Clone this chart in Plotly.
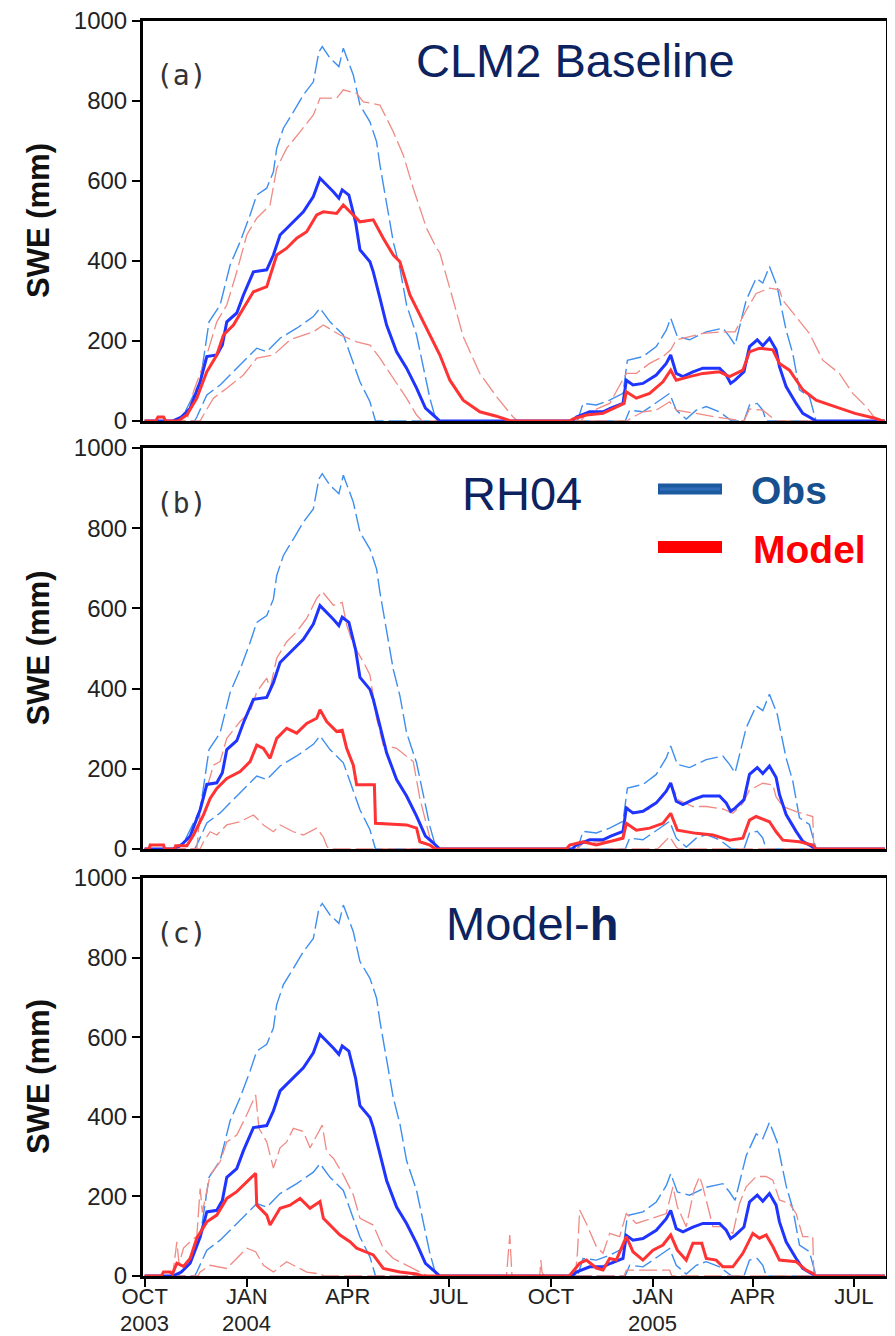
import pandas as pd
import plotly.graph_objects as go

# ---------------- data (day offsets from 2003-10-01, SWE in mm) ----------------
OBS_MEAN_DAY = [0, 25, 33, 41, 50, 56, 65, 70, 74, 83, 89, 98, 110, 116, 122, 134, 143, 152, 158, 170, 175, 178,
                184, 190, 194, 203, 206, 212, 218, 227, 236, 245, 253, 260, 266, 385, 389, 401, 413, 420, 431, 434,
                440, 449, 461, 470, 474, 479, 485, 494, 503, 518, 524, 528, 532, 540, 545, 552, 557, 563, 569, 572,
                578, 587, 593, 600, 605, 667]
OBS_MEAN_SWE = [0, 0, 10, 32, 98, 161, 165, 190, 248, 270, 315, 373, 378, 415, 465, 498, 523, 561, 607, 573, 557, 578,
                565, 498, 428, 398, 373, 307, 240, 173, 132, 82, 32, 15, 0, 0, 10, 23, 23, 32, 44, 102,
                90, 94, 115, 144, 165, 119, 111, 123, 132, 132, 115, 94, 102, 123, 186, 203, 188, 207, 178, 136,
                86, 44, 19, 8, 0, 0]

OBS_UP_DAY = [0, 30, 35, 50, 58, 68, 77, 86, 95, 101, 110, 116, 119, 125, 134, 143, 152, 157, 160, 167, 175, 179,
              188, 194, 203, 209, 212, 218, 224, 230, 236, 245, 251, 257, 262, 265, 385, 390, 395, 407, 419, 431,
              435, 449, 461, 470, 474, 480, 491, 506, 521, 527, 532, 542, 551, 557, 563, 570, 573, 578, 584, 590,
              599, 605, 667]
OBS_UP_SWE = [0, 0, 15, 98, 248, 290, 390, 448, 515, 565, 582, 623, 682, 732, 773, 815, 848, 923, 936, 907, 886, 932,
              865, 790, 748, 698, 640, 548, 448, 382, 290, 215, 140, 57, 7, 0, 0, 0, 44, 40, 52, 69,
              152, 161, 186, 227, 257, 211, 203, 223, 232, 211, 190, 302, 357, 345, 386, 336, 294, 227, 169, 78,
              61, 0, 0]

OBS_LO_DAY = [0, 45, 47, 56, 68, 77, 92, 101, 110, 122, 137, 152, 158, 167, 179, 188, 194, 203, 208, 433, 437, 449,
              464, 473, 479, 488, 497, 506, 518, 529, 540, 545, 552, 557, 560, 667]
OBS_LO_SWE = [0, 0, 10, 65, 90, 115, 157, 182, 173, 207, 232, 261, 282, 248, 215, 148, 98, 48, 0, 0, 27, 23,
              52, 69, 27, 5, 27, 36, 23, 0, 0, 40, 44, 27, 0, 0]

# (a) CLM2 Baseline
A_MEAN_DAY = [0, 10, 12, 17, 19, 30, 38, 47, 56, 65, 71, 80, 89, 98, 110, 119, 128, 137, 146, 155, 161, 173, 179,
              188, 194, 206, 215, 224, 230, 239, 251, 260, 266, 275, 287, 302, 317, 330, 383, 386, 398, 413, 425,
              432, 434, 443, 455, 467, 474, 479, 491, 503, 518, 527, 539, 545, 554, 566, 572, 581, 593, 605, 622,
              640, 658, 665, 667]
A_MEAN_SWE = [0, 0, 10, 10, 0, 0, 15, 57, 123, 165, 215, 240, 282, 323, 336, 415, 432, 457, 473, 515, 523, 519, 540,
              515, 498, 503, 457, 415, 398, 315, 248, 198, 165, 102, 52, 23, 12, 0, 0, 5, 15, 19, 36,
              44, 73, 57, 69, 98, 127, 102, 111, 119, 123, 111, 127, 173, 182, 178, 144, 127, 78, 52, 36,
              19, 7, 0, 0]

A_UP_DAY = [0, 38, 44, 56, 65, 74, 83, 92, 101, 113, 119, 128, 140, 152, 158, 173, 179, 191, 197, 212, 224, 233,
            242, 254, 263, 266, 278, 287, 302, 317, 332, 336, 393, 398, 419, 434, 443, 455, 467, 474, 479, 491,
            503, 521, 532, 542, 551, 563, 572, 575, 587, 599, 611, 626, 638, 650, 660, 667]
A_UP_SWE = [0, 0, 73, 165, 248, 290, 373, 465, 507, 540, 632, 682, 723, 765, 807, 807, 828, 819, 798, 790, 723, 665,
            582, 482, 432, 420, 302, 211, 119, 61, 10, 0, 0, 19, 44, 119, 119, 144, 161, 178, 203, 211,
            219, 223, 223, 277, 319, 332, 328, 302, 261, 219, 152, 119, 69, 36, 0, 0]

A_LO_DAY = [0, 50, 53, 62, 74, 89, 101, 116, 131, 152, 161, 176, 191, 203, 212, 224, 236, 245, 250, 435, 437, 449,
            461, 473, 479, 497, 515, 540, 545, 557, 569, 667]
A_LO_SWE = [0, 0, 15, 57, 82, 115, 157, 165, 203, 223, 240, 215, 198, 190, 157, 107, 57, 15, 0, 0, 5, 23,
            27, 48, 27, 19, 10, 0, 30, 27, 0, 0]

# (b) RH04
B_MEAN_DAY = [0, 4, 5, 17, 18, 27, 28, 38, 44, 53, 59, 65, 74, 86, 95, 101, 107, 113, 119, 128, 137, 146, 155, 158,
              164, 173, 178, 182, 188, 191, 207, 208, 236, 245, 248, 257, 262, 380, 383, 395, 407, 419, 431, 434,
              443, 455, 467, 474, 480, 497, 512, 527, 539, 545, 551, 563, 569, 575, 590, 602, 605, 667]
B_MEAN_SWE = [0, 0, 10, 10, 0, 0, 8, 8, 35, 85, 126, 151, 176, 193, 218, 259, 251, 226, 276, 301, 289, 313, 326, 347,
              318, 293, 296, 251, 209, 160, 160, 64, 60, 52, 18, 10, 0, 0, 10, 18, 10, 18, 27, 64,
              47, 52, 64, 89, 47, 39, 35, 22, 27, 72, 81, 68, 43, 22, 18, 10, 0, 0]

B_UP_DAY = [0, 47, 50, 59, 62, 68, 74, 86, 95, 101, 110, 113, 119, 128, 137, 146, 155, 160, 170, 178, 182, 188,
            197, 203, 209, 215, 227, 242, 248, 257, 262, 265, 390, 395, 419, 431, 434, 443, 455, 467, 474, 481,
            494, 506, 521, 530, 539, 545, 557, 566, 569, 575, 587, 602, 603, 667]
B_UP_SWE = [0, 0, 93, 176, 209, 218, 276, 318, 342, 392, 426, 400, 476, 517, 542, 575, 625, 642, 608, 615, 559, 509,
            467, 434, 326, 259, 251, 218, 126, 27, 10, 0, 0, 15, 20, 30, 106, 89, 100, 130, 164, 122,
            106, 106, 100, 89, 114, 147, 164, 160, 130, 106, 93, 81, 0, 0]

B_LO_DAY = [0, 50, 53, 59, 65, 74, 86, 98, 107, 116, 122, 134, 143, 155, 161, 164, 166, 462, 464, 473, 479, 481, 667]
B_LO_SWE = [0, 0, 18, 43, 35, 60, 68, 85, 60, 43, 60, 43, 35, 52, 30, 8, 0, 0, 5, 31, 5, 0, 0]

# (c) Model-h
C_MEAN_DAY = [0, 15, 17, 23, 25, 29, 35, 41, 47, 56, 65, 74, 83, 92, 100, 101, 110, 113, 122, 131, 140, 149, 158,
              161, 167, 176, 185, 191, 206, 215, 230, 245, 250, 382, 384, 392, 398, 407, 413, 419, 425, 434, 440,
              449, 458, 467, 474, 480, 488, 494, 502, 506, 515, 521, 530, 539, 548, 554, 560, 566, 572, 587, 596,
              603, 605, 667]
C_MEAN_SWE = [0, 0, 10, 10, 5, 32, 24, 44, 95, 136, 153, 195, 212, 237, 258, 178, 153, 128, 170, 178, 195, 170, 187,
              145, 128, 103, 86, 70, 53, 19, 10, 5, 0, 0, 5, 32, 40, 20, 15, 44, 40, 99, 61,
              40, 65, 78, 103, 65, 40, 82, 82, 44, 40, 23, 23, 57, 107, 95, 103, 74, 40, 36, 15,
              5, 0, 0]

C_UP_DAY = [0, 25, 27, 29, 31, 35, 41, 47, 50, 52, 59, 68, 74, 83, 92, 100, 103, 110, 116, 122, 128, 134, 143, 149,
            160, 164, 170, 179, 188, 194, 206, 215, 224, 236, 248, 255, 326, 328, 329, 331, 356, 357, 358, 360,
            388, 390, 392, 398, 407, 413, 419, 428, 434, 443, 452, 461, 470, 476, 480, 488, 495, 500, 503, 512,
            521, 530, 536, 542, 551, 560, 566, 572, 581, 587, 593, 602, 603, 667]
C_UP_SWE = [0, 0, 40, 86, 30, 70, 86, 100, 220, 160, 254, 287, 337, 354, 405, 455, 371, 337, 271, 322, 337, 371, 363,
            322, 379, 312, 296, 254, 204, 145, 128, 70, 44, 27, 10, 0, 0, 60, 103, 0, 0, 40, 10, 0,
            0, 60, 166, 132, 74, 57, 107, 99, 157, 132, 140, 149, 157, 224, 174, 124, 216, 250, 224, 124,
            124, 107, 182, 224, 250, 250, 241, 191, 182, 157, 99, 99, 0, 0]

C_LO_DAY = [0, 48, 50, 59, 74, 83, 92, 100, 107, 116, 128, 134, 146, 158, 162, 432, 434, 473, 475, 667]
C_LO_SWE = [0, 0, 10, 27, 19, 44, 70, 61, 27, 10, 36, 27, 10, 5, 0, 0, 15, 15, 0, 0]

START_DATE = "2003-10-01"
TICK_DATES = ["2003-10-01", "2004-01-01", "2004-04-01", "2004-07-01",
              "2004-10-01", "2005-01-01", "2005-04-01", "2005-07-01"]
TICK_LABELS = ["OCT", "JAN", "APR", "JUL", "OCT", "JAN", "APR", "JUL"]
YEAR_DATES = ["2003-10-01", "2004-01-01", "2005-01-01"]
YEAR_LABELS = ["2003", "2004", "2005"]
Y_TICKS = [0, 200, 400, 600, 800, 1000]
PANEL_TITLES = ["CLM2 Baseline", "RH04", "Model-<b>h</b>"]
PANEL_LETTERS = ["(a)", "(b)", "(c)"]

# ---------------- figure ----------------
OFF = 8                      # default page margin of the html body
W, H = 895 - OFF, 1336 - OFF
base = pd.Timestamp(START_DATE)


def dates(days):
    return base + pd.to_timedelta(days, unit="D")


def px(p):
    return (p - OFF) / W


def py(p):
    return 1 - (p - OFF) / H


OBS_DASH_C = "#3d8ef0"
OBS_MEAN_C = "#1f35ff"
MOD_DASH_C = "#f08a84"
MOD_MEAN_C = "#ff3333"
DASH = "18px,5px"
FONT = "Liberation Sans, Arial, sans-serif"

panels = [
    (A_MEAN_DAY, A_MEAN_SWE, A_UP_DAY, A_UP_SWE, A_LO_DAY, A_LO_SWE),
    (B_MEAN_DAY, B_MEAN_SWE, B_UP_DAY, B_UP_SWE, B_LO_DAY, B_LO_SWE),
    (C_MEAN_DAY, C_MEAN_SWE, C_UP_DAY, C_UP_SWE, C_LO_DAY, C_LO_SWE),
]

# panel pixel boxes in the page (top, bottom)
px_left, px_right = 143, 886
panel_px = [(21, 421), (448, 849), (878, 1276)]

fig = go.Figure()
for i, (md, mv, ud, uv, ld, lv) in enumerate(panels):
    n = "" if i == 0 else str(i + 1)
    common = dict(xaxis="x" + n, yaxis="y" + n, mode="lines", showlegend=False, hoverinfo="skip")
    fig.add_trace(go.Scatter(x=dates(OBS_UP_DAY), y=OBS_UP_SWE, line=dict(color=OBS_DASH_C, width=1.4, dash=DASH), **common))
    fig.add_trace(go.Scatter(x=dates(OBS_LO_DAY), y=OBS_LO_SWE, line=dict(color=OBS_DASH_C, width=1.4, dash=DASH), **common))
    fig.add_trace(go.Scatter(x=dates(ud), y=uv, line=dict(color=MOD_DASH_C, width=1.3, dash=DASH), **common))
    fig.add_trace(go.Scatter(x=dates(ld), y=lv, line=dict(color=MOD_DASH_C, width=1.3, dash=DASH), **common))
    fig.add_trace(go.Scatter(x=dates(OBS_MEAN_DAY), y=OBS_MEAN_SWE, line=dict(color=OBS_MEAN_C, width=3), **common))
    fig.add_trace(go.Scatter(x=dates(md), y=mv, line=dict(color=MOD_MEAN_C, width=3), **common))

layout = dict(
    template="none",
    width=W, height=H, margin=dict(l=0, r=0, t=0, b=0, pad=0),
    paper_bgcolor="white", plot_bgcolor="white",
    font=dict(family=FONT, color="#111"),
)
annotations = []
shapes = []
for i, (top, bot) in enumerate(panel_px):
    n = "" if i == 0 else str(i + 1)
    last = i == 2
    layout["xaxis" + n] = dict(
        domain=[px(px_left), px(px_right)], anchor="y" + n, type="date", automargin=False,
        range=["2003-09-29 12:00", "2005-07-30"],
        tickvals=TICK_DATES, ticktext=TICK_LABELS, ticklabeloverflow="allow", ticklabelstandoff=-9,
        showticklabels=last, ticks="outside" if last else "", ticklen=8, tickwidth=2, tickcolor="black",
        tickfont=dict(size=22, color="#222"),
        showgrid=False, zeroline=False, showline=True, linewidth=3, linecolor="black", mirror=True,
    )
    layout["yaxis" + n] = dict(
        domain=[py(bot), py(top)], anchor="x" + n, range=[0, 1000], automargin=False,
        tickvals=Y_TICKS, ticks="outside", ticklen=8, tickwidth=2, tickcolor="black", ticklabeloverflow="allow",
        tickfont=dict(size=24, color="#222"),
        showgrid=False, zeroline=False, showline=True, linewidth=3, linecolor="black", mirror=True,
    )
    annotations.append(dict(xref="paper", yref="paper", x=px(38), y=py((top + bot) / 2), text="<b>SWE (mm)</b>",
                            textangle=-90, showarrow=False, xanchor="center", yanchor="middle",
                            font=dict(size=31, color="#111", family=FONT)))
    annotations.append(dict(xref="paper", yref="paper", x=px(181), y=py(top + 55), text=PANEL_LETTERS[i],
                            showarrow=False, xanchor="center", yanchor="middle",
                            font=dict(size=28, color="#333", family="DejaVu Sans Mono, monospace")))

# year labels under the month tick labels of the bottom axis
for d, t in zip(YEAR_DATES, YEAR_LABELS):
    annotations.append(dict(xref="x3", yref="paper", x=d, y=py(1323), text=t, showarrow=False, borderpad=0,
                            xanchor="center", yanchor="middle", font=dict(size=22, color="#222", family=FONT)))

title_pos = [(575, 61), (522, 493), (532, 923)]
for t, (cx, cy) in zip(PANEL_TITLES, title_pos):
    annotations.append(dict(xref="paper", yref="paper", x=px(cx), y=py(cy), text=t, showarrow=False,
                            xanchor="center", yanchor="middle",
                            font=dict(size=47, color="#0c2360", family=FONT)))

# legend (in panel b)
shapes.append(dict(type="line", xref="paper", yref="paper", x0=px(658), x1=px(722), y0=py(489), y1=py(489),
                   line=dict(color="#1c5aa0", width=11)))
shapes.append(dict(type="line", xref="paper", yref="paper", x0=px(660), x1=px(720), y0=py(489), y1=py(489),
                   line=dict(color="#2e6cb8", width=3)))
shapes.append(dict(type="line", xref="paper", yref="paper", x0=px(658), x1=px(722), y0=py(547), y1=py(547),
                   line=dict(color="#ff0000", width=12)))
annotations.append(dict(xref="paper", yref="paper", x=px(749), y=py(490), text="<b>Obs</b>", showarrow=False,
                        xanchor="left", yanchor="middle", font=dict(size=39, color="#17508f", family=FONT)))
annotations.append(dict(xref="paper", yref="paper", x=px(751), y=py(549), text="<b>Model</b>", showarrow=False,
                        xanchor="left", yanchor="middle", font=dict(size=39, color="#ff0000", family=FONT)))

layout["annotations"] = annotations
layout["shapes"] = shapes
fig.update_layout(**layout)
fig.write_html("out.html")
